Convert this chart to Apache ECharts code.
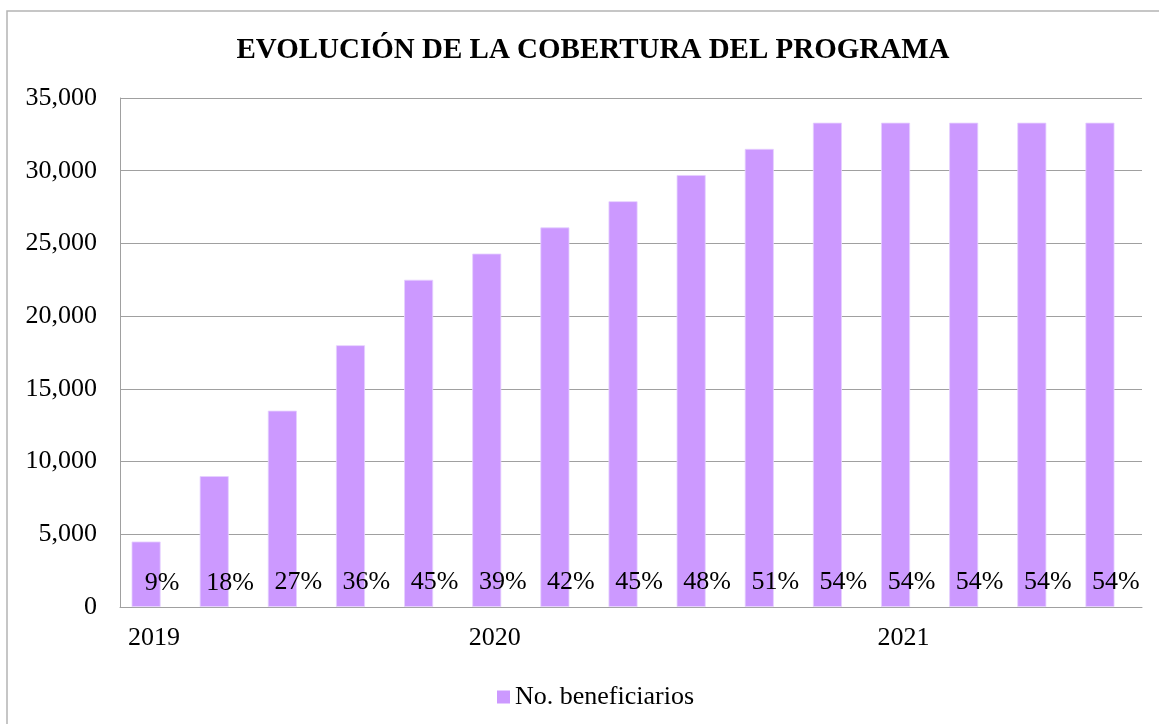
<!DOCTYPE html>
<html>
<head>
<meta charset="utf-8">
<title>Evolución de la cobertura del programa</title>
<script src="https://cdn.jsdelivr.net/npm/echarts@6/dist/echarts.min.js"></script>
<style>
  html, body { margin: 0; padding: 0; background: #fff; }
  #chart { width: 1159px; height: 724px; }
</style>
</head>
<body>
<div id="chart"></div>
<script>
// eje x: solo se rotula el año en el primer periodo de cada uno
const categories = ['2019', '', '', '', '', '2020', '', '', '', '', '', '2021', '', '', ''];
// número de beneficiarios por periodo
const beneficiarios = [4500, 9000, 13500, 18000, 22500, 24300, 26100, 27900, 29700, 31500, 33300, 33300, 33300, 33300, 33300];
// porcentaje de cobertura (etiquetas)
const cobertura = [9, 18, 27, 36, 45, 39, 42, 45, 48, 51, 54, 54, 54, 54, 54];
const yTicks = { min: 0, max: 35000, interval: 5000 };

const FONT = '"Liberation Serif", "Times New Roman", serif';

const chart = echarts.init(document.getElementById('chart'));
chart.setOption({
  animation: false,
  textStyle: { fontFamily: FONT, color: '#000' },
  // marco exterior del gráfico
  graphic: [{
    type: 'rect',
    silent: true,
    shape: { x: 7, y: 11, width: 1200, height: 800 },
    style: { fill: 'none', stroke: '#b4b4b4', lineWidth: 1.5 }
  }],
  title: {
    text: 'EVOLUCIÓN DE LA COBERTURA DEL PROGRAMA',
    left: 588,
    top: 31,
    textAlign: 'center',
    textStyle: { fontFamily: FONT, fontSize: 29, fontWeight: 'bold', color: '#000' }
  },
  legend: {
    data: [{ name: 'No. beneficiarios', icon: 'rect' }],
    left: 492,
    top: 679,
    itemWidth: 13,
    itemHeight: 13,
    itemStyle: { borderWidth: 0 },
    textStyle: { fontFamily: FONT, fontSize: 26, color: '#000' }
  },
  grid: { left: 120, right: 17, top: 98, bottom: 117 },
  xAxis: {
    type: 'category',
    data: categories,
    axisTick: { show: false },
    axisLine: { lineStyle: { color: '#a0a0a0', width: 1 } },
    axisLabel: { interval: 0, margin: 18, fontFamily: FONT, fontSize: 26, color: '#000' }
  },
  yAxis: {
    type: 'value',
    min: yTicks.min,
    max: yTicks.max,
    interval: yTicks.interval,
    axisLine: { show: true, lineStyle: { color: '#a0a0a0', width: 1 } },
    axisTick: { show: false },
    splitLine: { lineStyle: { color: '#a0a0a0', width: 1 } },
    axisLabel: {
      margin: 23,
      fontFamily: FONT,
      fontSize: 26,
      color: '#000',
      formatter: v => v.toLocaleString('en-US')
    }
  },
  series: [
    {
      name: 'No. beneficiarios',
      type: 'bar',
      data: beneficiarios,
      barWidth: 29,
      barGap: '-45%',
      itemStyle: { color: '#CC99FF', borderColor: '#E6D0FF', borderWidth: 0.8 }
    },
    {
      // serie auxiliar invisible que lleva las etiquetas de %
      name: 'Cobertura',
      type: 'bar',
      data: cobertura,
      barWidth: 29,
      itemStyle: { color: 'rgba(0,0,0,0)' },
      label: {
        show: true,
        position: 'top',
        distance: 11,
        formatter: '{c}%',
        fontFamily: FONT,
        fontSize: 26,
        color: '#000'
      }
    }
  ]
});
</script>
</body>
</html>
